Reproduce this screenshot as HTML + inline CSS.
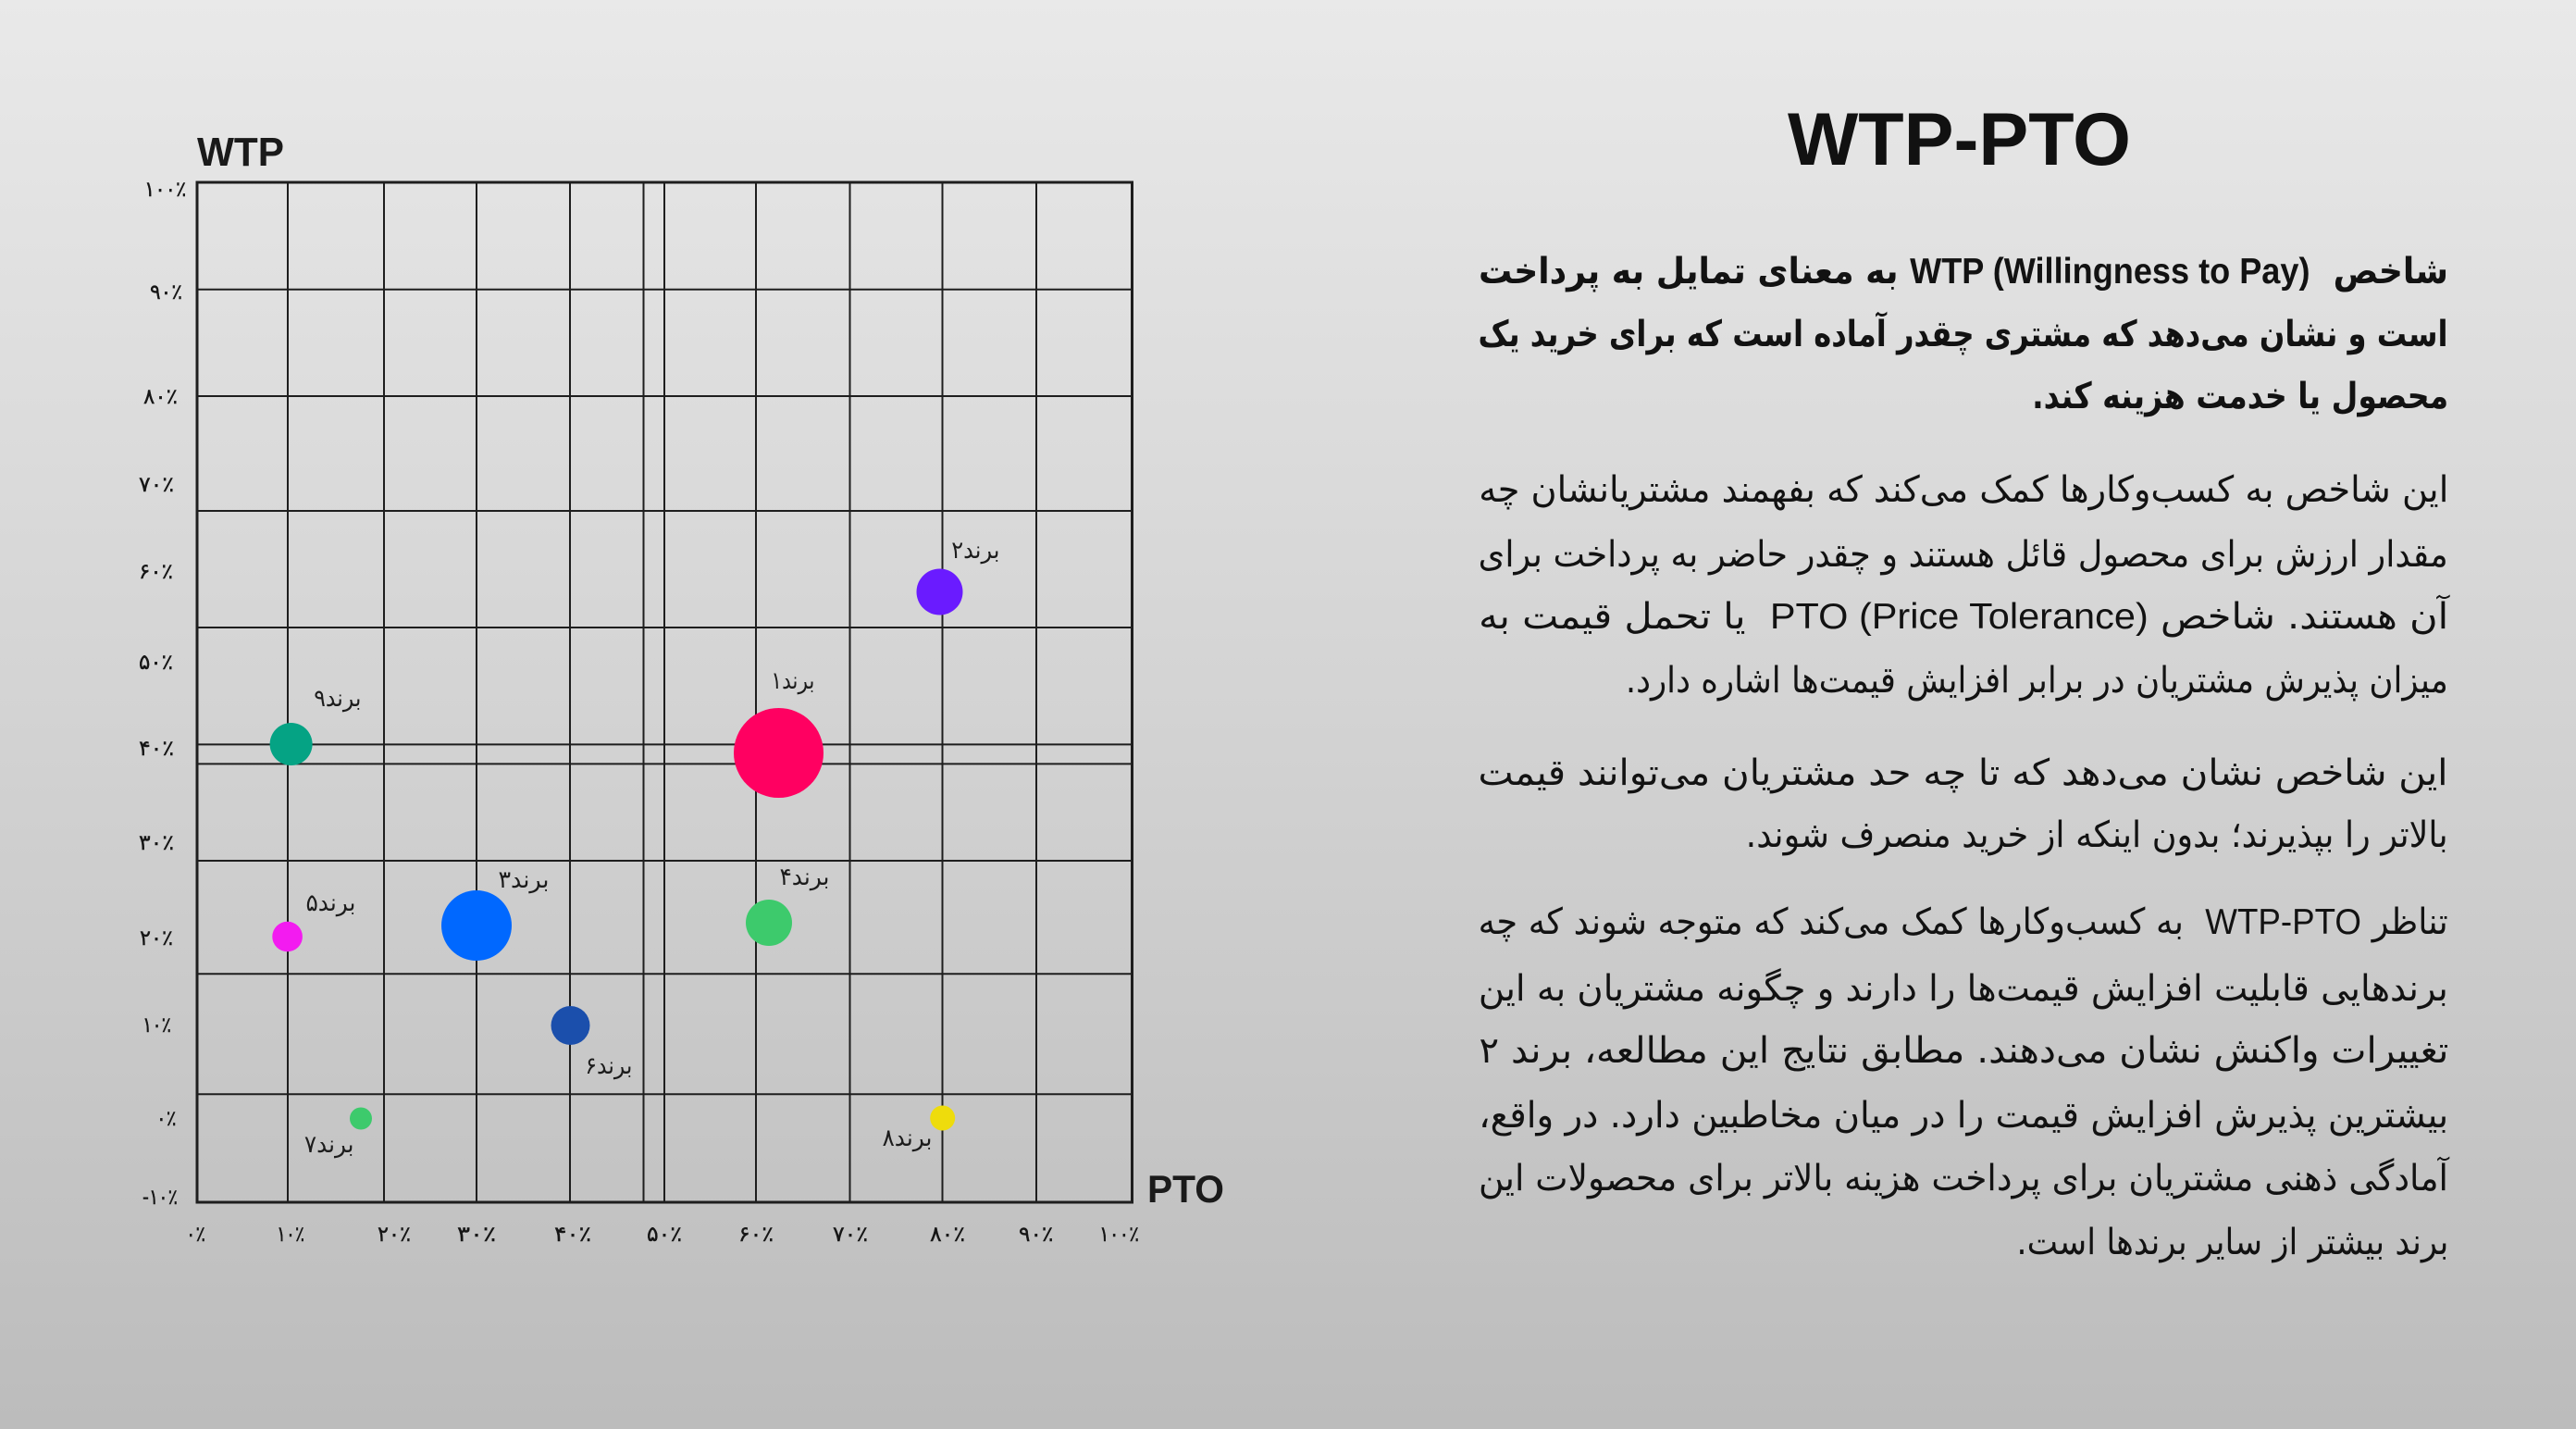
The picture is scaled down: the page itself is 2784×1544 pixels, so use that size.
<!DOCTYPE html>
<html>
<head>
<meta charset="utf-8">
<style>
html,body{margin:0;padding:0;}
body{width:2784px;height:1544px;position:relative;overflow:hidden;background:linear-gradient(180deg,#e9e9e9 0%,#d3d3d3 50%,#bcbcbc 100%);color:#141414;}
.fit{position:absolute;white-space:nowrap;}
.fit>span{display:inline-block;white-space:nowrap;}
.r{direction:rtl;text-align:right;}
.r>span{transform-origin:100% 50%;}
.l{direction:ltr;text-align:left;}
.l>span{transform-origin:0 50%;}
.fa{font-family:"DejaVu Sans",sans-serif;}
.la{font-family:"Liberation Sans",Arial,sans-serif;}
.tk{font-family:"DejaVu Sans",sans-serif;font-size:23px;line-height:23px;color:#151515;-webkit-text-stroke:0.4px #151515;}
.bl{font-family:"DejaVu Sans",sans-serif;font-size:26px;line-height:26px;color:#1c1c1c;}
.p{font-family:"DejaVu Sans",sans-serif;font-size:39px;line-height:39px;color:#121212;}
.b{font-weight:bold;}
</style>
</head>
<body>
<svg width="2784" height="1544" style="position:absolute;left:0;top:0" xmlns="http://www.w3.org/2000/svg">
  <g stroke="#1e1e1e" stroke-width="2" fill="none">
    <line x1="311" y1="197" x2="311" y2="1299"/>
    <line x1="415" y1="197" x2="415" y2="1299"/>
    <line x1="515" y1="197" x2="515" y2="1299"/>
    <line x1="616" y1="197" x2="616" y2="1299"/>
    <line x1="695.5" y1="197" x2="695.5" y2="1299"/>
    <line x1="718" y1="197" x2="718" y2="1299"/>
    <line x1="817" y1="197" x2="817" y2="1299"/>
    <line x1="918.5" y1="197" x2="918.5" y2="1299"/>
    <line x1="1018.5" y1="197" x2="1018.5" y2="1299"/>
    <line x1="1120" y1="197" x2="1120" y2="1299"/>
    <line x1="213" y1="312.7" x2="1223.5" y2="312.7"/>
    <line x1="213" y1="428" x2="1223.5" y2="428"/>
    <line x1="213" y1="552" x2="1223.5" y2="552"/>
    <line x1="213" y1="678" x2="1223.5" y2="678"/>
    <line x1="213" y1="804.4" x2="1223.5" y2="804.4"/>
    <line x1="213" y1="825.4" x2="1223.5" y2="825.4"/>
    <line x1="213" y1="930" x2="1223.5" y2="930"/>
    <line x1="213" y1="1052.3" x2="1223.5" y2="1052.3"/>
    <line x1="213" y1="1182.3" x2="1223.5" y2="1182.3"/>
  </g>
  <rect x="213" y="197" width="1010.5" height="1102" fill="none" stroke="#1e1e1e" stroke-width="3"/>
  <circle cx="314.6" cy="804" r="23" fill="#05A384"/>
  <circle cx="841.5" cy="813.5" r="48.5" fill="#FF0061"/>
  <circle cx="1015.5" cy="639.5" r="25" fill="#6A1BFF"/>
  <circle cx="515" cy="1000" r="38" fill="#0068FF"/>
  <circle cx="310.6" cy="1012" r="16.3" fill="#F31BF0"/>
  <circle cx="616.5" cy="1108" r="21" fill="#1B4FAC"/>
  <circle cx="390" cy="1208.5" r="12" fill="#3DCA6C"/>
  <circle cx="831" cy="997" r="25" fill="#3DCA6C"/>
  <circle cx="1018.7" cy="1208" r="13.5" fill="#EEDC0C"/>
</svg>

<!-- Title and axis titles -->
<div class="fit l la b" style="left:1932px;top:111.4px;width:371px;font-size:81px;line-height:81px;color:#111;"><span>WTP-PTO</span></div>
<div class="fit l la b" style="left:213px;top:142.8px;width:94px;font-size:44px;line-height:44px;color:#1a1a1a;"><span>WTP</span></div>
<div class="fit l la b" style="left:1240px;top:1264.4px;width:83px;font-size:42px;line-height:42px;color:#1a1a1a;"><span>PTO</span></div>

<!-- Y ticks -->
<div class="fit l tk" style="left:155.7px;top:193.8px;width:45.3px;"><span>۱۰۰٪</span></div>
<div class="fit l tk" style="left:162px;top:304.8px;width:35px;"><span>۹۰٪</span></div>
<div class="fit l tk" style="left:155px;top:417.8px;width:37px;"><span>۸۰٪</span></div>
<div class="fit l tk" style="left:150px;top:512.8px;width:38px;"><span>۷۰٪</span></div>
<div class="fit l tk" style="left:150px;top:606.8px;width:37px;"><span>۶۰٪</span></div>
<div class="fit l tk" style="left:150px;top:704.8px;width:37px;"><span>۵۰٪</span></div>
<div class="fit l tk" style="left:150px;top:797.8px;width:38px;"><span>۴۰٪</span></div>
<div class="fit l tk" style="left:150px;top:899.8px;width:38px;"><span>۳۰٪</span></div>
<div class="fit l tk" style="left:151px;top:1002.8px;width:36px;"><span>۲۰٪</span></div>
<div class="fit l tk" style="left:153.5px;top:1096.8px;width:31px;"><span>۱۰٪</span></div>
<div class="fit l tk" style="left:169px;top:1197.8px;width:21.5px;"><span>۰٪</span></div>
<div class="fit l tk" style="left:153.5px;top:1282.8px;width:38px;"><span>-۱۰٪</span></div>

<!-- X ticks -->
<div class="fit l tk" style="left:201px;top:1322.8px;width:21px;"><span>۰٪</span></div>
<div class="fit l tk" style="left:299px;top:1322.8px;width:30px;"><span>۱۰٪</span></div>
<div class="fit l tk" style="left:408px;top:1322.8px;width:36px;"><span>۲۰٪</span></div>
<div class="fit l tk" style="left:494px;top:1322.8px;width:42px;"><span>۳۰٪</span></div>
<div class="fit l tk" style="left:599px;top:1322.8px;width:40px;"><span>۴۰٪</span></div>
<div class="fit l tk" style="left:699px;top:1322.8px;width:38px;"><span>۵۰٪</span></div>
<div class="fit l tk" style="left:798px;top:1322.8px;width:38px;"><span>۶۰٪</span></div>
<div class="fit l tk" style="left:900px;top:1322.8px;width:38px;"><span>۷۰٪</span></div>
<div class="fit l tk" style="left:1005px;top:1322.8px;width:38px;"><span>۸۰٪</span></div>
<div class="fit l tk" style="left:1100.6px;top:1322.8px;width:37.4px;"><span>۹۰٪</span></div>
<div class="fit l tk" style="left:1188px;top:1322.8px;width:43px;"><span>۱۰۰٪</span></div>

<!-- Brand labels -->
<div class="fit r bl" style="left:338.8px;top:741.7px;width:51.2px;"><span>برند۹</span></div>
<div class="fit r bl" style="left:833px;top:722.7px;width:47px;"><span>برند۱</span></div>
<div class="fit r bl" style="left:1028.6px;top:582.4px;width:52.2px;"><span>برند۲</span></div>
<div class="fit r bl" style="left:538px;top:938.4px;width:55px;"><span>برند۳</span></div>
<div class="fit r bl" style="left:330px;top:963.3px;width:54px;"><span>برند۵</span></div>
<div class="fit r bl" style="left:632px;top:1139.4px;width:51px;"><span>برند۶</span></div>
<div class="fit r bl" style="left:329px;top:1223.7px;width:53.5px;"><span>برند۷</span></div>
<div class="fit r bl" style="left:842px;top:935.4px;width:54px;"><span>برند۴</span></div>
<div class="fit r bl" style="left:953px;top:1216.7px;width:54px;"><span>برند۸</span></div>

<!-- Paragraph 1 (bold) -->
<div class="fit r p b" style="left:1598px;top:274px;width:1048px;"><span>شاخص&nbsp; <span class="la" dir="ltr">WTP (Willingness to Pay)</span> به معنای تمایل به پرداخت</span></div>
<div class="fit r p b" style="left:1598px;top:342px;width:1048px;"><span>است و نشان می‌دهد که مشتری چقدر آماده است که برای خرید یک</span></div>
<div class="fit r p b" style="left:2196px;top:409px;width:450px;"><span>محصول یا خدمت هزینه کند.</span></div>

<!-- Paragraph 2 -->
<div class="fit r p" style="left:1598px;top:510px;width:1048px;"><span>این شاخص به کسب‌وکارها کمک می‌کند که بفهمند مشتریانشان چه</span></div>
<div class="fit r p" style="left:1598px;top:580px;width:1048px;"><span>مقدار ارزش برای محصول قائل هستند و چقدر حاضر به پرداخت برای</span></div>
<div class="fit r p" style="left:1598px;top:647px;width:1048px;"><span>آن هستند. شاخص <span class="la" dir="ltr">PTO (Price Tolerance)</span>&nbsp; یا تحمل قیمت به</span></div>
<div class="fit r p" style="left:1757px;top:716px;width:889px;"><span>میزان پذیرش مشتریان در برابر افزایش قیمت‌ها اشاره دارد.</span></div>

<!-- Paragraph 3 -->
<div class="fit r p" style="left:1598px;top:816px;width:1048px;"><span>این شاخص نشان می‌دهد که تا چه حد مشتریان می‌توانند قیمت</span></div>
<div class="fit r p" style="left:1887px;top:883px;width:759px;"><span>بالاتر را بپذیرند؛ بدون اینکه از خرید منصرف شوند.</span></div>

<!-- Paragraph 4 -->
<div class="fit r p" style="left:1598px;top:977px;width:1048px;"><span>تناظر <span class="la" dir="ltr">WTP-PTO</span>&nbsp; به کسب‌وکارها کمک می‌کند که متوجه شوند که چه</span></div>
<div class="fit r p" style="left:1598px;top:1049px;width:1048px;"><span>برندهایی قابلیت افزایش قیمت‌ها را دارند و چگونه مشتریان به این</span></div>
<div class="fit r p" style="left:1598px;top:1116px;width:1048px;"><span>تغییرات واکنش نشان می‌دهند. مطابق نتایج این مطالعه، برند ۲</span></div>
<div class="fit r p" style="left:1598px;top:1186px;width:1048px;"><span>بیشترین پذیرش افزایش قیمت را در میان مخاطبین دارد. در واقع،</span></div>
<div class="fit r p" style="left:1598px;top:1254px;width:1048px;"><span>آمادگی ذهنی مشتریان برای پرداخت هزینه بالاتر برای محصولات این</span></div>
<div class="fit r p" style="left:2179px;top:1323px;width:467px;"><span>برند بیشتر از سایر برندها است.</span></div>

<script>
(function(){
  function fitAll(){
    var els=document.querySelectorAll('.fit');
    for(var i=0;i<els.length;i++){
      var b=els[i];var s=b.firstElementChild;if(!s)continue;
      s.style.transform='none';
      var w=s.getBoundingClientRect().width;
      var t=parseFloat(b.style.width);
      if(w>0&&t>0){s.style.transform='scaleX('+(t/w).toFixed(4)+')';}
    }
  }
  fitAll();
  if(document.fonts&&document.fonts.ready){document.fonts.ready.then(fitAll);}
  window.addEventListener('load',fitAll);
})();
</script>
</body>
</html>
